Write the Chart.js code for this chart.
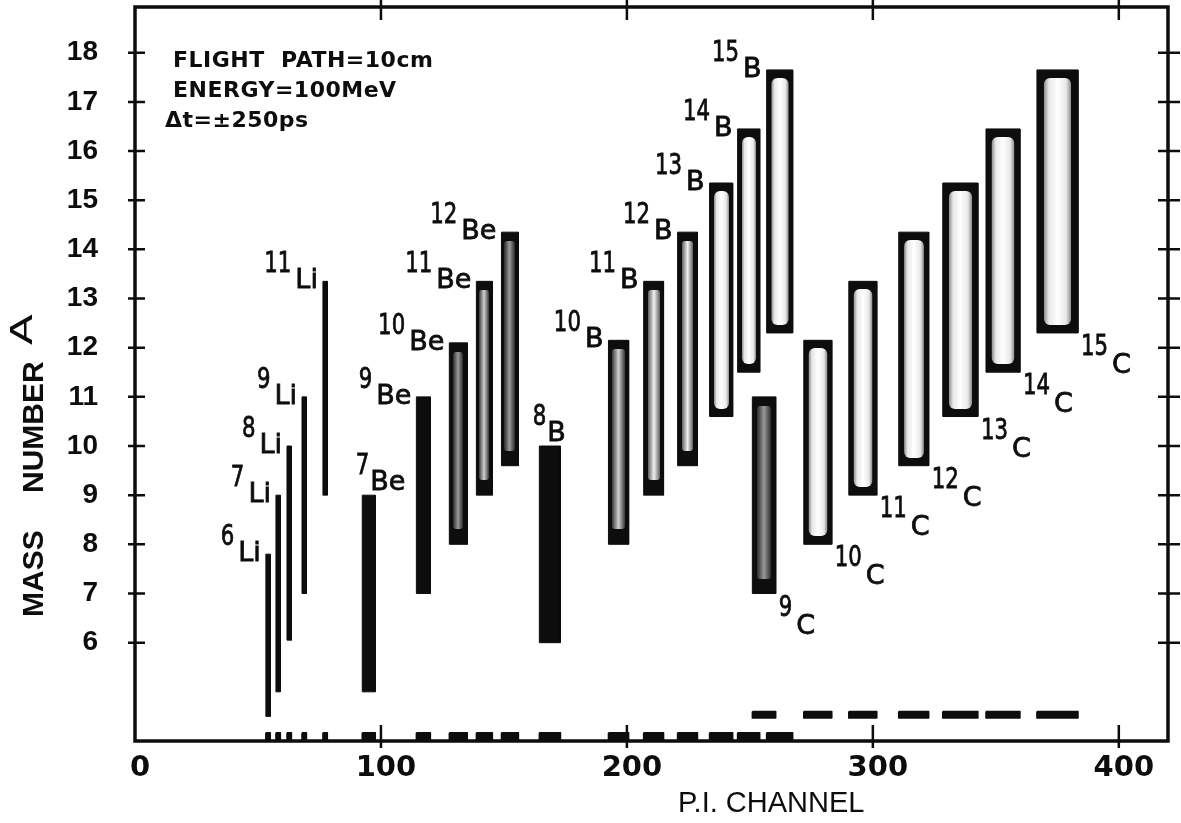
<!DOCTYPE html>
<html>
<head>
<meta charset="utf-8">
<title>Mass number vs P.I. channel</title>
<script src="https://cdn.jsdelivr.net/npm/chart.js@4.4.1/dist/chart.umd.min.js"></script>
<style>
  html, body { margin: 0; padding: 0; background: #fff; }
  #box { position: relative; width: 1181px; height: 823px; }
</style>
</head>
<body>
<div id="box"><canvas id="piChart"></canvas></div>
<script>
// identified isotopes: mass number, element, P.I. channel window and mass window
const massNumber = [6, 7, 8, 9, 11, 7, 9, 10, 11, 12, 8, 10, 11, 12, 13, 14, 15, 9, 10, 11, 12, 13, 14, 15];
const element = ['Li', 'Li', 'Li', 'Li', 'Li', 'Be', 'Be', 'Be', 'Be', 'Be',
                 'B', 'B', 'B', 'B', 'B', 'B', 'B', 'C', 'C', 'C', 'C', 'C', 'C', 'C'];
const channelLow  = [53.2, 57.3, 61.8, 67.9, 76.4, 92.4, 114.4, 127.8, 138.8, 149.0, 164.4, 192.5,
                     206.8, 220.6, 233.6, 245.0, 256.8, 251.0, 271.9, 290.2, 310.5, 328.4, 346.0, 366.7];
const channelHigh = [55.0, 59.1, 63.6, 69.7, 78.2, 97.7, 120.1, 135.1, 145.3, 155.9, 173.0, 200.7,
                     214.9, 228.7, 243.0, 254.0, 267.4, 260.5, 283.3, 301.6, 322.7, 342.7, 359.8, 383.4];
const massLow  = [4.5, 5.0, 6.05, 7.0, 9.0, 5.0, 7.0, 8.0, 9.0, 9.6, 6.0, 8.0,
                  9.0, 9.6, 10.6, 11.5, 12.3, 7.0, 8.0, 9.0, 9.6, 10.6, 11.5, 12.3];
const massHigh = [7.8, 9.0, 10.0, 11.0, 13.35, 9.0, 11.0, 12.1, 13.35, 14.35, 10.0, 12.15,
                  13.35, 14.35, 15.35, 16.45, 17.65, 11.0, 12.15, 13.35, 14.35, 15.35, 16.45, 17.65];
// gate marks along the bottom, per element (mass units)
const gateMass = { Li: [4.0, 4.17], Be: [4.0, 4.17], B: [4.0, 4.17], C: [4.47, 4.6] };

const xTickValues = [0, 100, 200, 300, 400];
const yTickValues = [6, 7, 8, 9, 10, 11, 12, 13, 14, 15, 16, 17, 18];
const infoLines = ['FLIGHT  PATH=10cm', 'ENERGY=100MeV', 'Δt=±250ps'];

// look of each band and where its name goes
const barStyle = ['solid', 'solid', 'solid', 'solid', 'solid', 'solid', 'solid', 'dim', 'mottled', 'dim',
                  'solid', 'mottled', 'bright', 'bright', 'hollow', 'hollow', 'hollow',
                  'dim', 'hollow', 'hollow', 'hollow', 'hollow', 'hollow', 'hollow'];
const labelSide = ['left', 'left', 'left', 'left', 'left', 'above', 'left', 'left', 'left', 'left',
                   'above', 'left', 'left', 'left', 'left', 'left', 'left',
                   'right', 'right', 'right', 'right', 'right', 'right', 'right'];

const INK = '#0d0d0d';
const NUM_FONT = '28px "DejaVu Sans", sans-serif';
const NUM_SQUEEZE = 0.76;
const EL_FONT = '27px "DejaVu Sans", sans-serif';
const CORE_SHADE = { dim: ['#2a2a2a', '#9a9a9a'], mottled: ['#3a3a3a', '#cfcfcf'], bright: ['#606060', '#f0f0f0'] };

function rectPoints(x0, x1, y0, y1) {
  return [{x: x0, y: y1}, {x: x1, y: y1}, {x: x1, y: y0}, {x: x0, y: y0}, {x: x0, y: y1}];
}

// paint the inside of a band on a small offscreen canvas and use it as a pattern
function barFill(chart, i) {
  const {x, y} = chart.scales;
  if (!chart.chartArea || !x || !y) return INK;
  const x0 = Math.round(x.getPixelForValue(channelLow[i]));
  const x1 = Math.round(x.getPixelForValue(channelHigh[i]));
  const y0 = Math.round(y.getPixelForValue(massHigh[i]));
  const y1 = Math.round(y.getPixelForValue(massLow[i]));
  const w = Math.max(1, x1 - x0), h = Math.max(1, y1 - y0);
  const off = document.createElement('canvas');
  off.width = w; off.height = h;
  const g = off.getContext('2d');
  g.fillStyle = INK;
  g.fillRect(0, 0, w, h);
  const style = barStyle[i];
  if (CORE_SHADE[style]) {
    const [edge, mid] = CORE_SHADE[style];
    const bx = Math.max(3, Math.round(w * 0.2)), by = 9;
    const grad = g.createLinearGradient(bx, 0, w - bx, 0);
    grad.addColorStop(0, edge);
    grad.addColorStop(0.5, mid);
    grad.addColorStop(1, edge);
    g.fillStyle = grad;
    g.beginPath();
    g.roundRect(bx, by, w - 2 * bx, h - 2 * by - 6, 3);
    g.fill();
  } else if (style === 'hollow') {
    const bx = Math.min(7, Math.max(4, w * 0.17)), by = 8;
    const grad = g.createLinearGradient(bx, 0, w - bx, 0);
    grad.addColorStop(0, '#8c8c8c');
    grad.addColorStop(0.18, '#e8e8e8');
    grad.addColorStop(0.5, '#ffffff');
    grad.addColorStop(0.82, '#e8e8e8');
    grad.addColorStop(1, '#8c8c8c');
    g.fillStyle = grad;
    g.beginPath();
    g.roundRect(bx, by, w - 2 * bx, h - 2 * by, Math.min(6, (w - 2 * bx) / 2));
    g.fill();
  }
  const pat = chart.ctx.createPattern(off, 'no-repeat');
  pat.setTransform(new DOMMatrix([1, 0, 0, 1, x0, y0]));
  return pat;
}

const datasets = [];
massNumber.forEach((a, i) => {
  datasets.push({
    label: a + element[i],
    data: rectPoints(channelLow[i], channelHigh[i], massLow[i], massHigh[i]),
    fill: 'shape',
    backgroundColor: ctx => barFill(ctx.chart, i),
    borderColor: INK,
    borderWidth: 1,
    pointRadius: 0,
    tension: 0
  });
});
massNumber.forEach((a, i) => {
  const gm = gateMass[element[i]];
  datasets.push({
    label: 'gate ' + a + element[i],
    data: rectPoints(channelLow[i], channelHigh[i], gm[0], gm[1]),
    fill: 'shape',
    backgroundColor: INK,
    borderColor: INK,
    borderWidth: 1.5,
    borderJoinStyle: 'round',
    pointRadius: 0,
    tension: 0
  });
});

function inkText(ctx, text, x, y, sx = 1) {
  ctx.save();
  ctx.translate(x, y);
  ctx.scale(sx, 1);
  ctx.fillText(text, 0, 0);
  ctx.strokeText(text, 0, 0);
  ctx.restore();
}

// isotope names: mass number raised, element symbol lowered
const isotopeLabels = {
  id: 'isotopeLabels',
  afterDatasetsDraw(chart) {
    const {ctx, scales: {x, y}} = chart;
    ctx.save();
    ctx.fillStyle = INK;
    ctx.strokeStyle = INK;
    ctx.lineWidth = 0.8;
    ctx.textBaseline = 'alphabetic';
    ctx.textAlign = 'left';
    massNumber.forEach((a, i) => {
      const left = x.getPixelForValue(channelLow[i]);
      const right = x.getPixelForValue(channelHigh[i]);
      const top = y.getPixelForValue(massHigh[i]);
      const bottom = y.getPixelForValue(massLow[i]);
      const num = String(a), el = element[i];
      ctx.font = NUM_FONT;
      const nw = ctx.measureText(num).width * NUM_SQUEEZE;
      ctx.font = EL_FONT;
      const ew = ctx.measureText(el).width;
      let nx, ny, ex, ey;
      if (labelSide[i] === 'right') {
        nx = right + 3; ny = bottom + 22;
        ex = nx + nw + 4; ey = bottom + 40;
      } else if (labelSide[i] === 'above') {
        ex = left + 8; ey = top - 5;
        nx = ex - nw - 1; ny = ey - 16;
      } else {
        ex = left - 5 - ew; ey = top + 7;
        nx = ex - 4 - nw; ny = ey - 16;
      }
      ctx.font = NUM_FONT;
      inkText(ctx, num, nx, ny, NUM_SQUEEZE);
      ctx.font = EL_FONT;
      inkText(ctx, el, ex, ey);
    });
    ctx.restore();
  }
};

// boxed frame with ticks crossing all four sides, axis titles and run notes
const frame = {
  id: 'frame',
  afterDraw(chart) {
    const {ctx, chartArea: a, scales: {x, y}} = chart;
    ctx.save();
    ctx.strokeStyle = INK;
    ctx.lineWidth = 3.5;
    ctx.lineJoin = 'miter';
    ctx.strokeRect(a.left, a.top, a.right - a.left, a.bottom - a.top);
    ctx.lineWidth = 2.5;
    ctx.beginPath();
    yTickValues.forEach(v => {
      const py = y.getPixelForValue(v);
      ctx.moveTo(a.left - 7, py); ctx.lineTo(a.left + 10, py);
      ctx.moveTo(a.right - 10, py); ctx.lineTo(a.right + 12, py);
    });
    xTickValues.filter(v => v > 0).forEach(v => {
      const px = x.getPixelForValue(v);
      ctx.moveTo(px, a.bottom - 16); ctx.lineTo(px, a.bottom + 7);
      ctx.moveTo(px, a.top - 7); ctx.lineTo(px, a.top + 13);
    });
    ctx.stroke();

    ctx.fillStyle = INK;
    ctx.textBaseline = 'alphabetic';
    ctx.textAlign = 'left';

    // x title
    ctx.font = '29px "Liberation Sans", Arial, sans-serif';
    ctx.fillText('P.I. CHANNEL', 678, 812);

    // y title, read bottom to top
    ctx.save();
    ctx.translate(43, 617);
    ctx.rotate(-Math.PI / 2);
    ctx.font = 'bold 30px "Liberation Sans", Arial, sans-serif';
    ctx.fillText('MASS', 0, 0);
    ctx.fillText('NUMBER', 124, 0);
    ctx.restore();
    ctx.save();
    ctx.translate(32, 345);
    ctx.rotate(-Math.PI / 2);
    ctx.scale(1.45, 1);
    ctx.font = '31px "DejaVu Sans", sans-serif';
    ctx.fillText('A', 0, 0);
    ctx.restore();

    // run conditions
    ctx.font = 'bold 22px "DejaVu Sans", sans-serif';
    ctx.letterSpacing = '0.5px';
    ctx.fillText(infoLines[0], 173, 67);
    ctx.fillText(infoLines[1], 173, 97);
    ctx.fillText(infoLines[2], 165, 127);
    ctx.restore();
  }
};

// tick marks are drawn by the frame plugin; the scale's own tick slot only spaces the labels
const hiddenTicks = (len) => ({ display: true, drawOnChartArea: false, drawTicks: true, tickLength: len, color: 'rgba(0,0,0,0)' });

new Chart(document.getElementById('piChart'), {
  type: 'line',
  data: { datasets },
  options: {
    responsive: true,
    maintainAspectRatio: false,
    animation: false,
    events: [],
    layout: { padding: { top: 7, right: 13, left: 0, bottom: 0 } },
    plugins: { legend: { display: false }, tooltip: { enabled: false } },
    scales: {
      x: {
        type: 'linear', min: 0, max: 420,
        grid: hiddenTicks(8), border: { display: false },
        afterBuildTicks: s => { s.ticks = xTickValues.map(v => ({ value: v })); },
        afterFit: s => { s.height = 82; },
        ticks: {
          color: INK, padding: 2, labelOffset: 5, maxRotation: 0, autoSkip: false,
          font: { family: '"DejaVu Sans", sans-serif', size: 29, weight: 'bold' }
        }
      },
      y: {
        type: 'linear', min: 4, max: 18.93,
        grid: hiddenTicks(37), border: { display: false },
        afterBuildTicks: s => { s.ticks = yTickValues.map(v => ({ value: v })); },
        afterFit: s => { s.width = 135; },
        ticks: {
          color: INK, padding: 0, autoSkip: false,
          font: { family: '"Liberation Sans", Arial, sans-serif', size: 28, weight: 'bold', lineHeight: 0.45 }
        }
      }
    }
  },
  plugins: [isotopeLabels, frame]
});
</script>
</body>
</html>
